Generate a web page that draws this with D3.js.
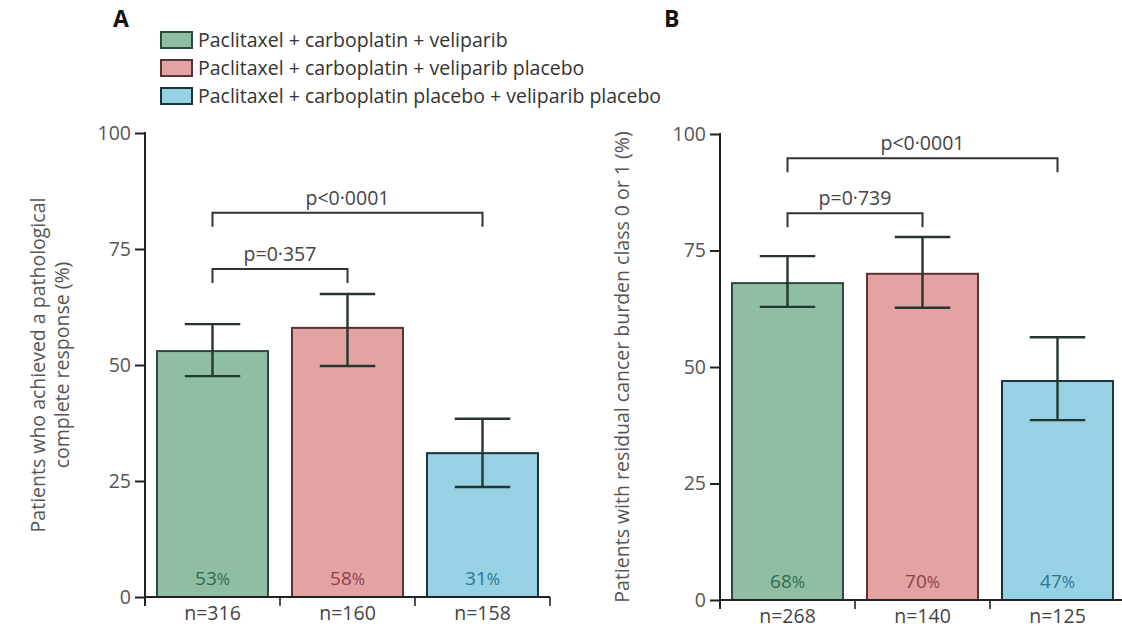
<!DOCTYPE html>
<html>
<head>
<meta charset="utf-8">
<script src="https://cdn.jsdelivr.net/npm/d3@7"></script>
<style>
  html, body { margin: 0; padding: 0; background: #fff; }
  svg { display: block; font-family: "Open Sans", "DejaVu Sans", sans-serif; }
</style>
</head>
<body>
<svg id="chart" width="1122" height="628"></svg>
<script>
// Treatment arms
const groups = [
  "Paclitaxel + carboplatin + veliparib",
  "Paclitaxel + carboplatin + veliparib placebo",
  "Paclitaxel + carboplatin placebo + veliparib placebo"
];

// Panel A: pathological complete response (%) with 95% CI
const pcrValues = [53, 58, 31];
const pcrLower = [47.6, 49.8, 23.7];
const pcrUpper = [58.8, 65.3, 38.4];
const pcrN = [316, 160, 158];

// Panel B: residual cancer burden class 0 or 1 (%) with 95% CI
const rcbValues = [68, 70, 47];
const rcbLower = [62.9, 62.7, 38.6];
const rcbUpper = [73.8, 77.9, 56.4];
const rcbN = [268, 140, 125];

const yTicks = [0, 25, 50, 75, 100];

// Pairwise comparisons drawn as brackets
const pcrComparisons = [
  { from: 0, to: 1, level: 70.7, label: "p=0·357" },
  { from: 0, to: 2, level: 82.8, label: "p<0·0001" }
];
const rcbComparisons = [
  { from: 0, to: 1, level: 83, label: "p=0·739" },
  { from: 0, to: 2, level: 94.8, label: "p<0·0001" }
];

const fills = ["#8fbea5", "#e4a3a3", "#96d2e3"];
const strokes = ["#2e4a3c", "#5a3434", "#1c3340"];
const labelColors = ["#2f6a50", "#8e4149", "#2d7592"];

const svg = d3.select("#chart");
const axisColor = "#222";
const textColor = "#555";
const fs = 19.5;

function drawPanel(opt) {
  const g = svg.append("g");
  const y = d3.scaleLinear().domain([0, 100]).range([opt.y0, opt.y1]);
  const x = d3.scaleBand().domain(d3.range(groups.length))
    .range([opt.x0, opt.x1]).paddingInner(0.178).paddingOuter(0.089);
  const step = x.step();
  const bw = x.bandwidth();

  // bars
  g.selectAll("rect.bar").data(opt.values).join("rect")
    .attr("class", "bar")
    .attr("x", (d, i) => x(i))
    .attr("y", d => y(d))
    .attr("width", bw)
    .attr("height", d => y(0) - y(d))
    .attr("fill", (d, i) => fills[i])
    .attr("stroke", (d, i) => strokes[i])
    .attr("stroke-width", 2);

  // error bars
  const eb = g.selectAll("g.err").data(opt.values).join("g").attr("class", "err");
  const cx = i => x(i) + bw / 2;
  const wh = bw * 0.25;
  eb.append("line")
    .attr("x1", (d, i) => cx(i)).attr("x2", (d, i) => cx(i))
    .attr("y1", (d, i) => y(opt.upper[i])).attr("y2", (d, i) => y(opt.lower[i]));
  eb.append("line")
    .attr("x1", (d, i) => cx(i) - wh).attr("x2", (d, i) => cx(i) + wh)
    .attr("y1", (d, i) => y(opt.upper[i])).attr("y2", (d, i) => y(opt.upper[i]));
  eb.append("line")
    .attr("x1", (d, i) => cx(i) - wh).attr("x2", (d, i) => cx(i) + wh)
    .attr("y1", (d, i) => y(opt.lower[i])).attr("y2", (d, i) => y(opt.lower[i]));
  eb.selectAll("line").attr("stroke", "#263530").attr("stroke-width", 2.4);

  // value labels inside bars
  const vl = g.selectAll("text.val").data(opt.values).join("text")
    .attr("class", "val")
    .attr("x", (d, i) => cx(i))
    .attr("y", y(0) - 12)
    .attr("text-anchor", "middle")
    .attr("font-size", 19)
    .attr("fill", (d, i) => labelColors[i]);
  vl.append("tspan").text(d => d);
  vl.append("tspan").attr("font-size", 16).text("%");

  // y axis
  const yAxis = d3.axisLeft(y).tickValues(yTicks).tickSize(10).tickPadding(4);
  const ya = g.append("g").attr("transform", `translate(${opt.x0},0)`).call(yAxis);
  ya.select(".domain").remove();
  ya.selectAll(".tick line").attr("stroke", axisColor).attr("stroke-width", 2);
  ya.selectAll(".tick text").attr("fill", textColor).attr("font-size", fs)
    .attr("font-family", "'Open Sans', sans-serif");
  g.append("line")
    .attr("x1", opt.x0).attr("x2", opt.x0)
    .attr("y1", y(100) - 1).attr("y2", y(0) + 9)
    .attr("stroke", axisColor).attr("stroke-width", 2);

  // x axis baseline with boundary ticks
  g.append("line")
    .attr("x1", opt.x0).attr("x2", opt.x1)
    .attr("y1", y(0)).attr("y2", y(0))
    .attr("stroke", axisColor).attr("stroke-width", 2);
  const bounds = d3.range(1, groups.length + 1).map(i => x(i - 1) + bw + step * 0.089);
  g.selectAll("line.xt").data(bounds).join("line")
    .attr("class", "xt")
    .attr("x1", d => d).attr("x2", d => d)
    .attr("y1", y(0)).attr("y2", y(0) + 9)
    .attr("stroke", axisColor).attr("stroke-width", 1.6);

  // sample sizes
  g.selectAll("text.n").data(opt.n).join("text")
    .attr("class", "n")
    .attr("x", (d, i) => cx(i))
    .attr("y", y(0) + 23)
    .attr("text-anchor", "middle")
    .attr("font-size", fs)
    .attr("fill", "#444")
    .text(d => "n=" + d);

  // comparison brackets
  opt.comparisons.forEach(c => {
    const xa = cx(c.from), xb = cx(c.to), yy = y(c.level);
    g.append("path")
      .attr("d", `M${xa},${yy + 14}V${yy}H${xb}V${yy + 14}`)
      .attr("fill", "none").attr("stroke", "#333").attr("stroke-width", 2);
    g.append("text")
      .attr("x", (xa + xb) / 2).attr("y", yy - 8)
      .attr("text-anchor", "middle")
      .attr("font-size", fs).attr("fill", "#444")
      .text(c.label);
  });

  // axis title
  const t = g.append("text")
    .attr("transform", `translate(${opt.titleX},${(y(0) + y(100)) / 2}) rotate(-90)`)
    .attr("text-anchor", "middle")
    .attr("font-size", fs)
    .attr("fill", textColor);
  opt.title.forEach((line, k) => {
    t.append("tspan").attr("x", 0).attr("dy", k === 0 ? "0.35em" : "1.25em").text(line);
  });

  // panel letter
  g.append("text")
    .attr("x", opt.letterX).attr("y", 27)
    .attr("font-size", 23).attr("font-weight", "bold")
    .attr("fill", "#111")
    .text(opt.letter);
}

drawPanel({
  letter: "A", letterX: 113,
  values: pcrValues, lower: pcrLower, upper: pcrUpper, n: pcrN,
  comparisons: pcrComparisons,
  x0: 145, x1: 550, y0: 597, y1: 133,
  titleX: 38,
  title: ["Patients who achieved a pathological", "complete response (%)"]
});

drawPanel({
  letter: "B", letterX: 664,
  values: rcbValues, lower: rcbLower, upper: rcbUpper, n: rcbN,
  comparisons: rcbComparisons,
  x0: 720, x1: 1125, y0: 600, y1: 134,
  titleX: 622,
  title: ["Patients with residual cancer burden class 0 or 1 (%)"]
});

// legend
const legend = svg.append("g").attr("transform", "translate(161,40)");
const rows = legend.selectAll("g").data(groups).join("g")
  .attr("transform", (d, i) => `translate(0,${i * 28})`);
rows.append("rect")
  .attr("x", 0).attr("y", -8).attr("width", 31).attr("height", 16)
  .attr("fill", (d, i) => fills[i])
  .attr("stroke", (d, i) => strokes[i]).attr("stroke-width", 2);
rows.append("text")
  .attr("x", 37).attr("y", 0).attr("dy", "0.35em")
  .attr("font-size", fs).attr("fill", "#333")
  .text(d => d);
</script>
</body>
</html>
